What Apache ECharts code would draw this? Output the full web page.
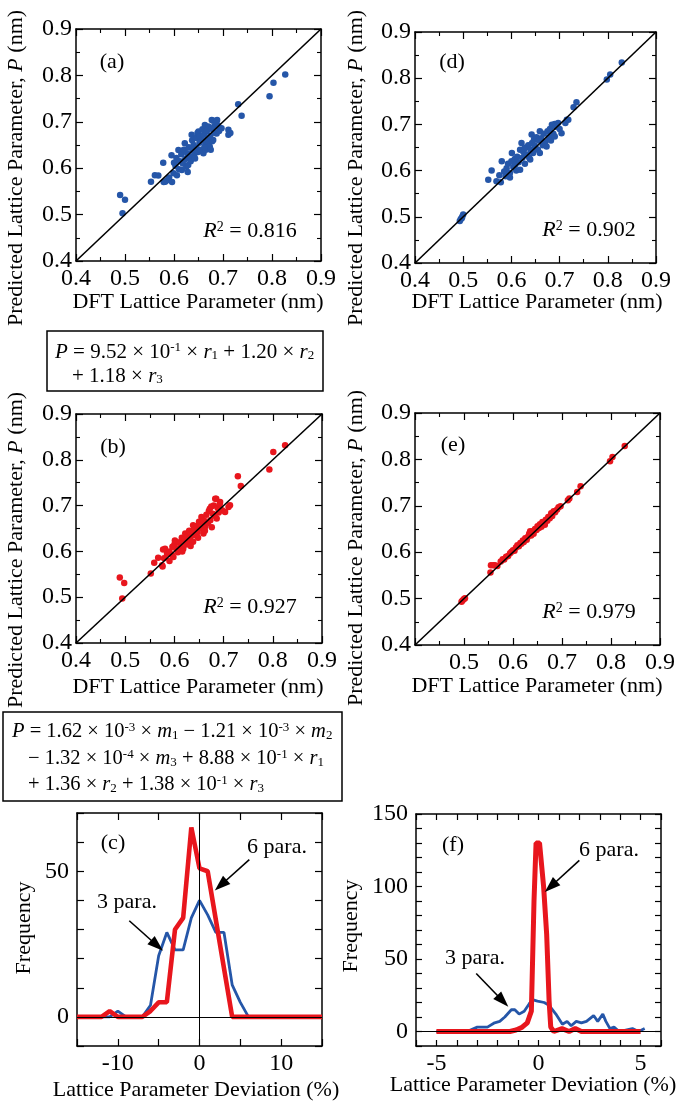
<!DOCTYPE html>
<html><head><meta charset="utf-8">
<script src="https://cdn.jsdelivr.net/npm/echarts@6/dist/echarts.min.js"></script>
<style>html,body{margin:0;padding:0;background:#fff}#chart{width:685px;height:1105px}</style>
</head><body><div id="chart"></div>
<script>
// ---------------- DATA ----------------
const scatterTickLabels = [0.4, 0.5, 0.6, 0.7, 0.8, 0.9];
const scatterTickLabelsE = [0.5, 0.6, 0.7, 0.8, 0.9];
const diagonal = [0.4, 0.9];
const devTickLabelsC = [-10, 0, 10];
const freqTickLabelsC = [0, 50];
const devTickLabelsF = [-5, 0, 5];
const freqTickLabelsF = [0, 50, 100, 150];
const panelLetters = ['(a)', '(b)', '(c)', '(d)', '(e)', '(f)'];
const r2Values = ['0.816', '0.927', '0.902', '0.979'];

// (a) 3 parameters, set 1 (blue): [DFT, predicted]
const pointsA = [
 [0.490,0.542],[0.500,0.532],[0.495,0.503],[0.553,0.571],[0.561,0.585],[0.568,0.584],[0.578,0.612],[0.579,0.570],[0.586,0.574],
 [0.731,0.738],[0.738,0.713],[0.795,0.755],[0.803,0.784],[0.827,0.802],[0.711,0.683],[0.711,0.672],[0.715,0.676],[0.694,0.686],
 [0.582,0.571],[0.590,0.580],[0.595,0.628],[0.599,0.589],[0.600,0.612],[0.603,0.605],[0.605,0.622],[0.609,0.639],[0.610,0.598],
 [0.612,0.615],[0.615,0.630],[0.616,0.596],[0.618,0.610],[0.620,0.640],[0.622,0.654],[0.623,0.620],[0.625,0.603],[0.627,0.632],
 [0.629,0.607],[0.630,0.645],[0.632,0.625],[0.634,0.615],[0.636,0.672],[0.637,0.660],[0.638,0.638],[0.640,0.650],[0.641,0.628],
 [0.643,0.621],[0.645,0.665],[0.646,0.644],[0.648,0.676],[0.649,0.635],[0.650,0.679],[0.652,0.655],[0.653,0.668],[0.655,0.640],
 [0.657,0.660],[0.658,0.684],[0.660,0.632],[0.661,0.672],[0.663,0.693],[0.664,0.650],[0.665,0.640],[0.667,0.680],[0.668,0.662],
 [0.670,0.690],[0.671,0.652],[0.673,0.646],[0.674,0.670],[0.676,0.685],[0.677,0.704],[0.678,0.658],[0.680,0.661],[0.680,0.702],
 [0.682,0.690],[0.684,0.676],[0.686,0.700],[0.687,0.675],[0.688,0.704],[0.690,0.692],[0.697,0.686],[0.692,0.680],[0.675,0.640],
 [0.662,0.645],[0.628,0.592],[0.606,0.585],[0.596,0.570]
];
// (b) 3 parameters, set 2 (red)
const pointsB = [
 [0.489,0.543],[0.498,0.531],[0.494,0.497],[0.552,0.552],[0.559,0.575],[0.567,0.586],[0.577,0.604],[0.576,0.567],[0.590,0.579],
 [0.729,0.764],[0.735,0.743],[0.793,0.779],[0.801,0.817],[0.825,0.832],[0.713,0.701],[0.710,0.697],[0.685,0.715],[0.693,0.708],
 [0.581,0.606],[0.585,0.595],[0.590,0.600],[0.595,0.592],[0.598,0.588],[0.600,0.615],[0.601,0.624],[0.604,0.605],[0.607,0.598],
 [0.610,0.620],[0.612,0.610],[0.615,0.630],[0.618,0.606],[0.620,0.625],[0.622,0.639],[0.624,0.615],[0.626,0.632],[0.628,0.620],
 [0.630,0.645],[0.632,0.628],[0.635,0.640],[0.638,0.621],[0.638,0.657],[0.640,0.648],[0.642,0.635],[0.645,0.655],[0.647,0.642],
 [0.650,0.665],[0.652,0.650],[0.655,0.675],[0.657,0.658],[0.659,0.639],[0.660,0.668],[0.663,0.655],[0.665,0.680],[0.668,0.662],
 [0.670,0.688],[0.672,0.693],[0.673,0.668],[0.676,0.653],[0.678,0.682],[0.680,0.700],[0.682,0.678],[0.683,0.715],[0.686,0.672],
 [0.688,0.695],[0.690,0.685],[0.692,0.703],[0.697,0.690],[0.703,0.686],[0.575,0.570],[0.579,0.585],[0.596,0.610],[0.616,0.600],
 [0.633,0.612],[0.648,0.630],[0.662,0.645],[0.675,0.698]
];
// (d) 6 parameters, set 1 (blue)
const pointsD = [
 [0.493,0.491],[0.495,0.495],[0.497,0.497],[0.500,0.505],[0.498,0.500],[0.552,0.580],[0.559,0.600],[0.569,0.577],[0.597,0.585],
 [0.729,0.737],[0.735,0.748],[0.798,0.797],[0.805,0.808],[0.829,0.834],[0.715,0.710],[0.712,0.703],[0.690,0.701],
 [0.575,0.590],[0.580,0.620],[0.585,0.598],[0.590,0.605],[0.593,0.615],[0.597,0.595],[0.600,0.620],[0.601,0.638],[0.604,0.608],
 [0.607,0.625],[0.610,0.600],[0.612,0.630],[0.615,0.618],[0.618,0.645],[0.618,0.602],[0.621,0.660],[0.623,0.628],[0.625,0.640],
 [0.628,0.615],[0.630,0.650],[0.632,0.635],[0.635,0.655],[0.637,0.628],[0.639,0.624],[0.640,0.645],[0.642,0.678],[0.643,0.660],
 [0.645,0.638],[0.647,0.668],[0.650,0.650],[0.652,0.672],[0.655,0.645],[0.657,0.665],[0.659,0.685],[0.659,0.638],[0.662,0.670],
 [0.665,0.655],[0.667,0.680],[0.670,0.662],[0.673,0.652],[0.675,0.685],[0.678,0.672],[0.680,0.690],[0.682,0.665],[0.684,0.699],
 [0.687,0.680],[0.690,0.674],[0.692,0.695],[0.697,0.703],[0.700,0.690],[0.704,0.681],[0.718,0.710],[0.578,0.575],[0.588,0.588],
 [0.608,0.612],[0.627,0.648],[0.648,0.655]
];
// (e) 6 parameters, set 2 (red)
const pointsE = [
 [0.495,0.493],[0.497,0.496],[0.500,0.499],[0.502,0.501],[0.554,0.556],[0.555,0.572],[0.560,0.572],[0.563,0.572],[0.568,0.570],
 [0.575,0.580],[0.579,0.585],[0.582,0.584],[0.586,0.590],[0.590,0.592],[0.594,0.598],[0.597,0.601],[0.600,0.604],[0.603,0.603],
 [0.606,0.610],[0.609,0.615],[0.612,0.613],[0.615,0.620],[0.617,0.618],[0.620,0.625],[0.622,0.622],[0.625,0.630],[0.628,0.627],
 [0.630,0.633],[0.633,0.640],[0.635,0.645],[0.637,0.636],[0.640,0.645],[0.642,0.640],[0.645,0.650],[0.648,0.648],[0.650,0.656],
 [0.653,0.652],[0.655,0.660],[0.658,0.655],[0.660,0.665],[0.663,0.662],[0.665,0.659],[0.667,0.670],[0.670,0.668],[0.672,0.676],
 [0.675,0.673],[0.678,0.684],[0.680,0.678],[0.683,0.688],[0.686,0.686],[0.690,0.692],[0.693,0.697],[0.697,0.699],[0.712,0.712],
 [0.715,0.716],[0.731,0.730],[0.738,0.742],[0.798,0.796],[0.803,0.805],[0.828,0.829]
];
// (c) deviation histograms, set 1: [deviation %, frequency]
const devC3para = [[-15,0],[-11,0],[-10,2],[-9,0],[-7,0],[-6,4],[-5,21],[-4,29],[-3,23],[-2,23],[-1,34],[0,40],[1,35],[2,29],[3,29],[4,11],[5,5],[6,0],[15,0]];
const devC6para = [[-15,0],[-12,0],[-11,2],[-10,0],[-7,0],[-6,2],[-5,5],[-4,5],[-3,30],[-2,34],[-1,65],[0,51],[1,50],[4,0],[15,0]];
// (f) deviation histograms, set 2
const devF3para = [[-5,0],[-3.5,0],[-3.0,3],[-2.5,3],[-2.15,6],[-1.9,7],[-1.65,10],[-1.33,15],[-1.16,15],[-0.95,12],[-0.7,14],[-0.46,19],[-0.3,22],[-0.05,21],[0.28,20],[0.52,18],[0.85,12],[1.17,5],[1.4,7],[1.6,4],[1.85,7],[2.1,6],[2.35,7],[2.7,11],[2.9,7],[3.15,12],[3.3,7],[3.5,2],[3.7,3],[3.95,0],[4.6,2],[4.9,0],[5.2,2]];
const devF6para = [[-5,0],[-1.4,0],[-1.1,1],[-0.8,3],[-0.55,6],[-0.35,14],[-0.22,90],[-0.12,130],[0.05,130],[0.25,100],[0.4,67],[0.52,21],[0.6,3],[0.75,0],[1.15,2],[1.5,0],[1.8,2],[2.1,0],[5,0]];
// arrows: [fromX, fromY, toX, toY] in data units
const arrowsC = [[-8.6,33,-5.2,24.5],[6.1,54,2.6,45.2]];
const arrowsF = [[-3.05,40,-1.75,21],[2.0,118,0.6,100]];

// ---------------- STYLE / LAYOUT ----------------
const FONT = 'Liberation Serif';
const BLUE = '#2556a8';
const RED = '#e8161d';
const grids = [
  {left:76, top:29, width:245, height:232},   // a
  {left:76, top:414, width:246, height:229},  // b
  {left:77, top:813, width:245, height:233},  // c
  {left:415, top:32, width:241, height:231},  // d
  {left:415, top:413, width:245, height:232}, // e
  {left:416, top:814, width:245, height:232}  // f
];

function axes(gi, dim, min, max, interval, labelVals, tickLen, minor, margin) {
  const base = {
    gridIndex: gi, type: 'value', min, max, interval,
    splitLine: {show: false},
    axisLine: {show: true, onZero: false, lineStyle: {color: '#000', width: 1.5}},
    axisTick: {show: true, inside: true, length: tickLen, lineStyle: {color: '#000', width: 1.2}},
    minorTick: minor ? {show: true, splitNumber: 2, length: 4, lineStyle: {color: '#000', width: 1.1}} : {show: false}
  };
  const fmt = v => {
    const hit = labelVals.find(t => Math.abs(t - v) < 1e-6);
    if (hit === undefined) return '';
    return minor ? hit.toFixed(1) : String(hit);
  };
  return [
    Object.assign({}, base, {position: dim === 'x' ? 'bottom' : 'left',
      axisLabel: {show: true, formatter: fmt, fontFamily: FONT, fontSize: 24, color: '#000', margin, showMinLabel: true, showMaxLabel: true}}),
    Object.assign({}, base, {position: dim === 'x' ? 'top' : 'right', axisLabel: {show: false}})
  ];
}

const xAxes = [], yAxes = [];
const scatterDefs = [
  {gi:0, pts:pointsA, col:BLUE, xl:scatterTickLabels},
  {gi:1, pts:pointsB, col:RED, xl:scatterTickLabels},
  {gi:3, pts:pointsD, col:BLUE, xl:scatterTickLabels},
  {gi:4, pts:pointsE, col:RED, xl:scatterTickLabelsE}
];
for (let gi = 0; gi < 6; gi++) {
  if (gi === 2) {
    xAxes.push(...axes(gi, 'x', -15, 15, 5, devTickLabelsC, 7, false, 6));
    yAxes.push(...axes(gi, 'y', -10, 70, 10, freqTickLabelsC, 7, false, 8));
  } else if (gi === 5) {
    xAxes.push(...axes(gi, 'x', -6, 6, 1, devTickLabelsF, 6, false, 6));
    yAxes.push(...axes(gi, 'y', -10, 150, 10, freqTickLabelsF, 6, false, 8));
  } else {
    const def = scatterDefs.find(d => d.gi === gi);
    xAxes.push(...axes(gi, 'x', 0.4, 0.9, 0.1, def.xl, 7, true, 6));
    yAxes.push(...axes(gi, 'y', 0.4, 0.9, 0.1, scatterTickLabels, 7, true, 4));
  }
}

const series = [];
scatterDefs.forEach(d => {
  series.push({type: 'scatter', xAxisIndex: 2*d.gi, yAxisIndex: 2*d.gi, data: d.pts, symbolSize: 6.5,
    itemStyle: {color: d.col, opacity: 1}, z: 2, silent: true});
  series.push({type: 'line', xAxisIndex: 2*d.gi, yAxisIndex: 2*d.gi, data: [[diagonal[0], diagonal[0]], [diagonal[1], diagonal[1]]],
    symbol: 'none', lineStyle: {color: '#000', width: 1.6}, z: 3, silent: true});
});

function arrowLines(arr) {
  return arr.map(a => [{coord: [a[0], a[1]], symbol: 'none'}, {coord: [a[2], a[3]], symbol: 'triangle', symbolSize: [11, 16]}]);
}
function histSeries(gi, d3, d6, w3, w6, zeroLines, arrows) {
  series.push({type: 'line', xAxisIndex: 2*gi, yAxisIndex: 2*gi, data: d3, symbol: 'none', silent: true,
    lineStyle: {color: BLUE, width: w3}, z: 2,
    markLine: {silent: true, symbol: 'none', label: {show: false}, animation: false,
      lineStyle: {color: '#000', width: 1, type: 'solid'}, data: zeroLines}});
  series.push({type: 'line', xAxisIndex: 2*gi, yAxisIndex: 2*gi, data: d6, symbol: 'none', silent: true,
    lineStyle: {color: RED, width: w6}, z: 3,
    markLine: {silent: true, label: {show: false}, animation: false,
      lineStyle: {color: '#000', width: 1.6, type: 'solid'}, data: arrowLines(arrows)}});
}
histSeries(2, devC3para, devC6para, 2.8, 4.6, [{yAxis: 0}, {xAxis: 0}], arrowsC);
histSeries(5, devF3para, devF6para, 2.8, 5, [{yAxis: 0}], arrowsF);

// ---------------- TEXT ----------------
function rich(fs) {
  return {
    i: {fontFamily: FONT, fontSize: fs, fontStyle: 'italic', fill: '#000'},
    sup: {fontFamily: FONT, fontSize: Math.round(fs * 0.62), verticalAlign: 'top', fill: '#000'},
    sub: {fontFamily: FONT, fontSize: Math.round(fs * 0.62), verticalAlign: 'bottom', fill: '#000'}
  };
}
function txt(x, y, text, fs, align, rot) {
  return {type: 'text', x, y, rotation: rot || 0, z: 100, silent: true,
    style: {text, fontFamily: FONT, fontSize: fs, fill: '#000', align: align || 'center', verticalAlign: 'middle', rich: rich(fs)}};
}
const yTitle = 'Predicted Lattice Parameter, {i|P} (nm)';
const xTitle = 'DFT Lattice Parameter (nm)';
const devTitle = 'Lattice Parameter Deviation (%)';
const graphics = [
  // scatter axis titles
  txt(16, 168, yTitle, 22, 'center', Math.PI/2),
  txt(16, 550, yTitle, 22, 'center', Math.PI/2),
  txt(356, 168, yTitle, 22, 'center', Math.PI/2),
  txt(356, 548, yTitle, 22, 'center', Math.PI/2),
  txt(198, 302, xTitle, 22),
  txt(198, 687, xTitle, 22),
  txt(537, 302, xTitle, 22),
  txt(537, 686, xTitle, 22),
  // histogram titles
  txt(24, 928, 'Frequency', 22, 'center', Math.PI/2),
  txt(351, 926, 'Frequency', 22, 'center', Math.PI/2),
  txt(196, 1090, devTitle, 22),
  txt(533, 1085, devTitle, 22),
  // panel letters
  txt(112, 62, panelLetters[0], 22),
  txt(113, 447, panelLetters[1], 22),
  txt(113, 843, panelLetters[2], 22),
  txt(452, 62, panelLetters[3], 22),
  txt(453, 445, panelLetters[4], 22),
  txt(453, 845, panelLetters[5], 22),
  // R^2
  txt(250, 231, '{i|R}{sup|2} = ' + r2Values[0], 22),
  txt(250, 607, '{i|R}{sup|2} = ' + r2Values[1], 22),
  txt(589, 230, '{i|R}{sup|2} = ' + r2Values[2], 22),
  txt(589, 612, '{i|R}{sup|2} = ' + r2Values[3], 22),
  // annotations
  txt(127, 902, '3 para.', 22),
  txt(277, 847, '6 para.', 22),
  txt(475, 958, '3 para.', 22),
  txt(609, 850, '6 para.', 22),
  // equation boxes
  {type: 'rect', z: 100, silent: true, shape: {x: 47, y: 331, width: 276, height: 60}, style: {fill: 'none', stroke: '#000', lineWidth: 1.5}},
  txt(55, 352, '{i|P} = 9.52 × 10{sup|-1} × {i|r}{sub|1} + 1.20 × {i|r}{sub|2}', 21, 'left'),
  txt(72, 376, '+ 1.18 × {i|r}{sub|3}', 21, 'left'),
  {type: 'rect', z: 100, silent: true, shape: {x: 3, y: 712, width: 339, height: 89}, style: {fill: 'none', stroke: '#000', lineWidth: 1.5}},
  txt(12, 732, '{i|P} = 1.62 × 10{sup|-3} × {i|m}{sub|1} − 1.21 × 10{sup|-3} × {i|m}{sub|2}', 20.5, 'left'),
  txt(28, 759, '− 1.32 × 10{sup|-4} × {i|m}{sub|3} + 8.88 × 10{sup|-1} × {i|r}{sub|1}', 20.5, 'left'),
  txt(28, 785, '+ 1.36 × {i|r}{sub|2} + 1.38 × 10{sup|-1} × {i|r}{sub|3}', 20.5, 'left')
];

const chart = echarts.init(document.getElementById('chart'), null, {renderer: 'canvas'});
chart.setOption({
  animation: false,
  backgroundColor: '#fff',
  grid: grids.map(g => Object.assign({containLabel: false}, g)),
  xAxis: xAxes,
  yAxis: yAxes,
  series,
  graphic: graphics
});
</script></body></html>
